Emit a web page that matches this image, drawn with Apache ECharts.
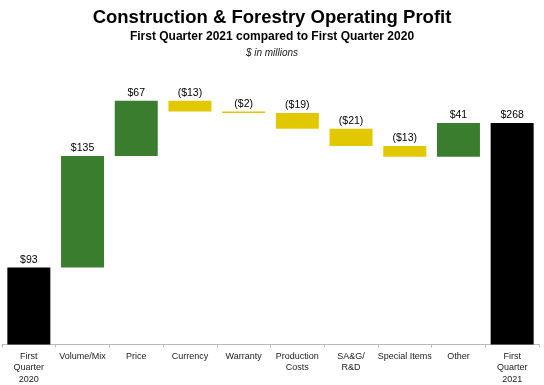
<!DOCTYPE html>
<html><head><meta charset="utf-8">
<script src="https://cdn.jsdelivr.net/npm/echarts@6/dist/echarts.min.js"></script>
<style>html,body{margin:0;padding:0;background:#fff;}#c{width:544px;height:385px;}</style>
</head><body><div id="c"></div>
<script>
const categories = ['First\nQuarter\n2020','Volume/Mix','Price','Currency','Warranty','Production\nCosts','SA&G/\nR&D','Special Items','Other','First\nQuarter\n2021'];
const changes = [93, 135, 67, -13, -2, -19, -21, -13, 41, 268];
const kinds = ['total','up','up','down','down','down','down','down','up','total'];
const colors = {total:'#000000', up:'#3b7d2e', down:'#e2c800'};

const base = [], vis = [];
let run = 0;
changes.forEach((v,i)=>{
  if (kinds[i]==='total'){ base.push(0); vis.push({value:v, itemStyle:{color:colors.total}}); run = v; }
  else if (v>=0){ base.push(run); vis.push({value:v, itemStyle:{color:colors.up}}); run += v; }
  else { run += v; base.push(run); vis.push({value:-v, itemStyle:{color:colors.down}}); }
});
const labels = changes.map(v => v<0 ? '($'+(-v)+')' : '$'+v);

const chart = echarts.init(document.getElementById('c'));
chart.setOption({
  animation:false,
  title:[
    {text:'Construction & Forestry Operating Profit', left:'center', top:3, textStyle:{fontFamily:'Liberation Sans', fontSize:18.5, fontWeight:'bold', color:'#000'}},
    {text:'First Quarter 2021 compared to First Quarter 2020', left:'center', top:26, textStyle:{fontFamily:'Liberation Sans', fontSize:12, fontWeight:'bold', color:'#000'}},
    {text:'$ in millions', left:'center', top:43, textStyle:{fontFamily:'Liberation Sans', fontSize:10, fontStyle:'italic', fontWeight:'normal', color:'#222'}}
  ],
  grid:{left:2, right:5, top:96.5, bottom:38, containLabel:false},
  xAxis:{type:'category', data:categories,
    axisLine:{lineStyle:{color:'#bbbbbb'}},
    axisTick:{show:true, alignWithLabel:false, length:3, lineStyle:{color:'#bbbbbb'}},
    axisLabel:{interval:0, color:'#222', fontFamily:'Liberation Sans', fontSize:9, lineHeight:11.5, margin:6}
  },
  yAxis:{type:'value', min:0, max:300, show:false, splitLine:{show:false}},
  series:[
    {type:'bar', stack:'w', data:base, itemStyle:{color:'transparent'}, barWidth:43, silent:true},
    {type:'bar', stack:'w', data:vis, barWidth:43,
     label:{show:true, position:'top', distance:2, color:'#000', fontFamily:'Liberation Sans', fontSize:10.5,
       formatter:p=>labels[p.dataIndex]}}
  ]
});
</script></body></html>
